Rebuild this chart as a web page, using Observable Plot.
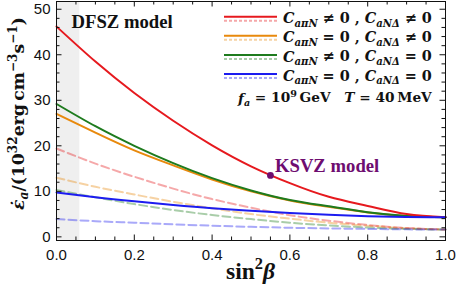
<!DOCTYPE html>
<html><head><meta charset="utf-8">
<script src="https://cdn.jsdelivr.net/npm/d3@7"></script>
<script src="https://cdn.jsdelivr.net/npm/@observablehq/plot@0.6"></script>
<style>body{margin:0;background:#fff} #chart{position:relative;width:458px;height:297px}</style>
</head><body><div id="chart"></div>
<script>
// ---- data ----
const sin2beta = [0, 0.1, 0.2, 0.3, 0.4, 0.5, 0.6, 0.7, 0.8, 0.9, 1.0];
const seriesKeys = ["piN1_ND1", "piN0_ND1", "piN1_ND0", "piN0_ND0"];
const seriesColors = ["#e6191e", "#e8890c", "#1e7b1e", "#1c1cf0"];
const solidValues = {
  piN1_ND1: [46.2, 38.5, 31.6, 25.5, 20.1, 15.5, 11.8, 8.8, 6.8, 5.0, 4.3],
  piN0_ND1: [27.0, 22.9, 19.0, 15.7, 12.6, 10.0, 8.0, 6.6, 5.35, 4.6, 4.3],
  piN1_ND0: [29.2, 24.3, 20.0, 16.2, 12.9, 10.2, 8.1, 6.7, 5.4, 4.6, 4.3],
  piN0_ND0: [9.75, 8.7, 7.8, 7.0, 6.3, 5.75, 5.25, 4.85, 4.55, 4.38, 4.3]
};
const dashedValues = {
  piN1_ND1: [19.4, 16.1, 13.2, 10.6, 8.3, 6.4, 4.75, 3.55, 2.6, 1.95, 1.6],
  piN0_ND1: [13.0, 11.0, 9.3, 7.7, 6.3, 5.0, 4.0, 3.1, 2.45, 1.9, 1.6],
  piN1_ND0: [10.3, 8.7, 7.2, 5.9, 4.8, 3.9, 3.1, 2.5, 2.05, 1.75, 1.6],
  piN0_ND0: [3.9, 3.45, 3.1, 2.75, 2.45, 2.2, 2.0, 1.85, 1.75, 1.65, 1.6]
};
const ksvzS = [0.55];
const ksvzV = [13.5];
const dfszBand = [0, 0.06];
const xMajor = [0, 0.2, 0.4, 0.6, 0.8, 1.0];
const xMinor = [0.05,0.1,0.15,0.25,0.3,0.35,0.45,0.5,0.55,0.65,0.7,0.75,0.85,0.9,0.95];
const yMajor = [0, 10, 20, 30, 40, 50];
const yMinor = [2,4,6,8,12,14,16,18,22,24,26,28,32,34,36,38,42,44,46,48];

// ---- tables ----
const drawOrder = ["piN0_ND1", "piN1_ND0", "piN1_ND1", "piN0_ND0"];
const solidRows = drawOrder.flatMap(k => sin2beta.map((s, i) => ({key: k, s, v: solidValues[k][i]})));
const dashedRows = drawOrder.flatMap(k => sin2beta.map((s, i) => ({key: k, s, v: dashedValues[k][i]})));
const ksvz = ksvzS.map((s, i) => ({s, v: ksvzV[i]}));

const W = 458 - 56 - 13, H = 297 - 1 - 57;
const serif = "'Liberation Serif', 'DejaVu Serif', serif";
const wideSerif = "'DejaVu Serif', 'Liberation Serif', serif";
const purple = "#6e0d70";

const chart = Plot.plot({
  width: 458, height: 297,
  marginLeft: 56, marginRight: 13, marginTop: 1, marginBottom: 57,
  x: {domain: [0, 1]},
  y: {domain: [-0.8, 51.7]},
  color: {domain: seriesKeys, range: seriesColors},
  style: {background: "#fff", fontFamily: "'Liberation Sans', Arial, sans-serif", fontSize: "15px", color: "#000"},
  marks: [
    Plot.rect([dfszBand], {x1: d => d[0], x2: d => d[1], fill: "#efefef"}),
    Plot.line(dashedRows, {x: "s", y: "v", z: "key", stroke: "key", strokeOpacity: 0.38, strokeWidth: 2, strokeDasharray: "8,4", curve: "natural"}),
    Plot.line(solidRows, {x: "s", y: "v", z: "key", stroke: "key", strokeWidth: 2, curve: "natural"}),
    Plot.dot(ksvz, {x: "s", y: "v", r: 3.4, fill: purple}),
    Plot.text(ksvz, {x: "s", y: "v", text: () => "KSVZ model", textAnchor: "start", lineAnchor: "bottom", dx: 4.5, dy: -3.5, fill: purple, fontSize: 18.7, fontWeight: "bold", fontFamily: serif}),
    Plot.text(["DFSZ model"], {frameAnchor: "top-left", text: d => d, textAnchor: "start", lineAnchor: "bottom", dx: 15, dy: 26.3, fill: "#111", fontSize: 18.7, fontWeight: "bold", fontFamily: serif}),
    Plot.frame({stroke: "#111", strokeWidth: 1}),
    // inward frame ticks
    Plot.tickX(xMajor, {x: d => d, insetTop: H - 5.5, stroke: "#111"}),
    Plot.tickX(xMinor, {x: d => d, insetTop: H - 3.5, stroke: "#111"}),
    Plot.tickX(xMajor, {x: d => d, insetBottom: H - 5.5, stroke: "#111"}),
    Plot.tickX(xMinor, {x: d => d, insetBottom: H - 3.5, stroke: "#111"}),
    Plot.tickY(yMajor, {y: d => d, insetRight: W - 5.5, stroke: "#111"}),
    Plot.tickY(yMinor, {y: d => d, insetRight: W - 3.5, stroke: "#111"}),
    Plot.tickY(yMajor, {y: d => d, insetLeft: W - 5.5, stroke: "#111"}),
    Plot.tickY(yMinor, {y: d => d, insetLeft: W - 3.5, stroke: "#111"}),
    Plot.axisX({ticks: xMajor, tickSize: 0, tickPadding: 8.5, tickFormat: d => d.toFixed(1), label: null, fontSize: 15, fill: "#111"}),
    Plot.axisY({ticks: yMajor, tickSize: 0, tickPadding: 6, tickFormat: d => String(d), label: null, fontSize: 15, fill: "#111"})
  ]
});
document.getElementById("chart").appendChild(chart);

// ---- rich text helper (real SVG text) ----
const svg = d3.select(chart);
function richText(parent, parts, {x = 0, y = 0, anchor = "start", fs = 16, target = null, weight = "bold", fill = "#111", family = serif}) {
  const t = parent.append("text").attr("x", x).attr("y", y).attr("text-anchor", anchor)
    .attr("font-size", fs).attr("font-family", family).attr("font-weight", weight).attr("fill", fill);
  let shift = 0;
  for (const p of parts) {
    const ts = t.append("tspan").text(p.t);
    const tgt = p.sub ? 0.25 : p.sup ? -0.42 : 0;
    const size = (p.sub || p.sup) ? 0.7 : 1;
    const d = tgt - shift;
    if (d !== 0) ts.attr("dy", (d / size).toFixed(3) + "em");
    shift = tgt;
    if (size !== 1) ts.attr("font-size", (size * 100) + "%");
    if (p.i) ts.attr("font-style", "italic");
  }
  if (target) {
    const w = t.node().getComputedTextLength();
    if (w > 0) t.attr("font-size", fs * target / w);
  }
  return t;
}

// y-axis title
const gy = svg.append("g").attr("transform", "translate(24,113.5) rotate(-90)");
richText(gy, [
  {t: "\u03B5\u0307", i: 1}, {t: "a", i: 1, sub: 1}, {t: "/(10"}, {t: "32", sup: 1},
  {t: "erg\u2009cm"}, {t: "\u22123", sup: 1}, {t: "s"}, {t: "\u22121", sup: 1}, {t: ")"}
], {anchor: "middle", fs: 17, target: 193, family: wideSerif});

// x-axis title
richText(svg, [{t: "sin"}, {t: "2", sup: 1}, {t: "\u03B2", i: 1}], {x: 250.5, y: 279, anchor: "middle", fs: 20, target: 49});

// legend
const legendLabels = [
  [{t: "C", i: 1}, {t: "a\u03C0N", i: 1, sub: 1}, {t: " \u2260 0 , "}, {t: "C", i: 1}, {t: "aN\u0394", i: 1, sub: 1}, {t: " \u2260 0"}],
  [{t: "C", i: 1}, {t: "a\u03C0N", i: 1, sub: 1}, {t: " = 0 , "}, {t: "C", i: 1}, {t: "aN\u0394", i: 1, sub: 1}, {t: " \u2260 0"}],
  [{t: "C", i: 1}, {t: "a\u03C0N", i: 1, sub: 1}, {t: " \u2260 0 , "}, {t: "C", i: 1}, {t: "aN\u0394", i: 1, sub: 1}, {t: " = 0"}],
  [{t: "C", i: 1}, {t: "a\u03C0N", i: 1, sub: 1}, {t: " = 0 , "}, {t: "C", i: 1}, {t: "aN\u0394", i: 1, sub: 1}, {t: " = 0"}]
];
const lg = svg.append("g");
seriesKeys.forEach((k, i) => {
  const yy = 16.7 + 19.1 * i;
  lg.append("line").attr("x1", 224).attr("x2", 277).attr("y1", yy).attr("y2", yy)
    .attr("stroke", seriesColors[i]).attr("stroke-width", 2);
  lg.append("line").attr("x1", 224).attr("x2", 277).attr("y1", yy + 4).attr("y2", yy + 4)
    .attr("stroke", seriesColors[i]).attr("stroke-opacity", 0.38).attr("stroke-width", 2).attr("stroke-dasharray", "3,2");
  richText(lg, legendLabels[i], {x: 283, y: yy + 6.6, fs: 15, target: 149, family: wideSerif});
});
richText(lg, [
  {t: "f", i: 1}, {t: "a", i: 1, sub: 1}, {t: " = 10"}, {t: "9", sup: 1}, {t: "\u2009GeV\u2003"},
  {t: "T", i: 1}, {t: " = 40\u2009MeV"}
], {x: 238, y: 102.5, fs: 15, target: 194, family: wideSerif});
</script>
</body></html>
